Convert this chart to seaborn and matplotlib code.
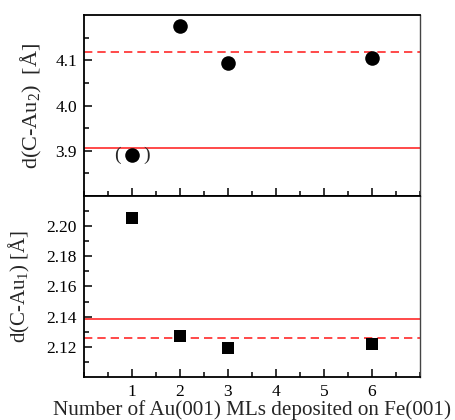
import matplotlib
matplotlib.use("Agg")
import matplotlib.pyplot as plt
import seaborn as sns
import pandas as pd
from matplotlib.ticker import MultipleLocator, FixedLocator

# Data
layers = [1, 2, 3, 6]
d_c_au2 = [3.8905, 4.175, 4.093, 4.106]
d_c_au1 = [2.2055, 2.1275, 2.119, 2.122]
au2_solid_ref = 3.906
au2_dashed_ref = 4.118
au1_solid_ref = 2.1387
au1_dashed_ref = 2.1257
xticklabels = ["1", "2", "3", "4", "5", "6"]

sns.set_style("ticks")
plt.rcParams['font.family'] = ['Liberation Serif', 'DejaVu Serif']
plt.rcParams['mathtext.fontset'] = 'custom'
plt.rcParams['mathtext.rm'] = 'Liberation Serif'
plt.rcParams['mathtext.it'] = 'Liberation Serif'

df2 = pd.DataFrame({"n": layers, "d": d_c_au2})
df1 = pd.DataFrame({"n": layers, "d": d_c_au1})

fig = plt.figure(figsize=(4.56, 4.20), dpi=100)
ax1 = fig.add_axes([84/456, 1-196/420, 336/456, 181/420])
ax2 = fig.add_axes([84/456, 1-377/420, 336/456, 181/420])

red = "#ff2a2a"
for ax in (ax1, ax2):
    ax.set_xlim(0, 7)
    for s in ax.spines.values():
        s.set_linewidth(1.3)
        s.set_color("black")
    ax.spines["right"].set_linewidth(1.0)
    ax.spines["right"].set_color("#444444")
    ax.xaxis.set_major_locator(FixedLocator([1, 2, 3, 4, 5, 6]))
    ax.xaxis.set_minor_locator(MultipleLocator(0.5))
    ax.tick_params(axis='both', which='both', direction='in', top=False, right=False,
                   width=1.1, colors='black', labelsize=12.5)
    ax.tick_params(axis='both', which='major', length=6, pad=5)
    ax.tick_params(axis='both', which='minor', length=3.5)

# Top panel
ax1.axhline(au2_solid_ref, color=red, lw=1.2, zorder=1)
ax1.axhline(au2_dashed_ref, color=red, lw=1.2, ls=(0, (5, 3)), zorder=1)
sns.scatterplot(data=df2, x="n", y="d", ax=ax1, marker="o", s=110, color="black",
                edgecolor="black", linewidth=0, zorder=3, legend=False)
ax1.annotate("(", (layers[0], d_c_au2[0]), xytext=(-15, 0), textcoords="offset pixels",
             ha="center", va="center", fontsize=14)
ax1.annotate(")", (layers[0], d_c_au2[0]), xytext=(15, 0), textcoords="offset pixels",
             ha="center", va="center", fontsize=14)
ax1.set_ylim(3.8, 4.2)
ax1.yaxis.set_major_locator(FixedLocator([3.9, 4.0, 4.1]))
ax1.yaxis.set_minor_locator(FixedLocator([3.85, 3.95, 4.05, 4.15]))
ax1.set_xticklabels([])
ax1.set_xlabel("")
ax1.set_ylabel(r"d(C-Au$_2$)  [Å]", fontsize=16)
ax1.yaxis.set_label_coords(-0.12, 0.5)

# Bottom panel
ax2.axhline(au1_solid_ref, color=red, lw=1.2, zorder=1)
ax2.axhline(au1_dashed_ref, color=red, lw=1.2, ls=(0, (5, 3)), zorder=1)
sns.scatterplot(data=df1, x="n", y="d", ax=ax2, marker="s", s=85, color="black",
                edgecolor="black", linewidth=0, zorder=3, legend=False)
ax2.set_ylim(2.10, 2.22)
ax2.yaxis.set_major_locator(FixedLocator([2.12, 2.14, 2.16, 2.18, 2.20]))
ax2.yaxis.set_minor_locator(FixedLocator([2.11, 2.13, 2.15, 2.17, 2.19, 2.21]))
ax2.yaxis.set_major_formatter(matplotlib.ticker.FormatStrFormatter("%.2f"))
ax2.set_xticklabels(xticklabels)
ax2.set_xlabel("Number of Au(001) MLs deposited on Fe(001)", fontsize=15.2, labelpad=0)
ax2.set_ylabel(r"d(C-Au$_1$) [Å]", fontsize=15)
ax2.yaxis.set_label_coords(-0.155, 0.5)

fig.savefig("out.png", dpi=100)
